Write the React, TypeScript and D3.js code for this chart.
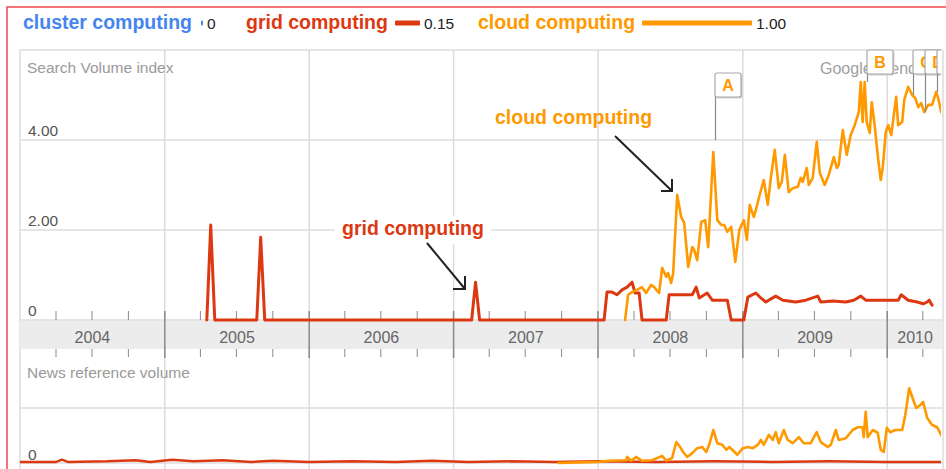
import React from 'react';
import * as d3 from 'd3';

// ---------- data ----------
const seriesNames = ['cluster computing', 'grid computing', 'cloud computing'];
const seriesColors = ['#4684ee', '#dc3912', '#ff9900'];
const legendValues = [0, 0.15, 1.0];
const legendLabels = ['0', '0.15', '1.00'];

const yearLabels = ['2004', '2005', '2006', '2007', '2008', '2009', '2010'];
const searchTicks = [0, 2, 4];
const searchTickLabels = ['0', '2.00', '4.00'];

// decimal-year time stamps and values (Search Volume index)
const gridSearchT = [
  2005.291, 2005.318, 2005.346, 2005.637, 2005.664, 2005.692, 2007.125, 2007.152, 2007.18,
  2008.042, 2008.062, 2008.097, 2008.131, 2008.166, 2008.201, 2008.235, 2008.256, 2008.284, 2008.304,
  2008.471, 2008.491, 2008.651, 2008.678, 2008.699, 2008.754, 2008.789, 2008.893, 2008.92,
  2009.007, 2009.035, 2009.09, 2009.125, 2009.159, 2009.228, 2009.277, 2009.367, 2009.436, 2009.519,
  2009.54, 2009.623, 2009.713, 2009.768, 2009.817, 2009.851, 2009.941, 2010.0, 2010.076, 2010.097,
  2010.145, 2010.208, 2010.249, 2010.277, 2010.291, 2010.311,
];
const gridSearchV = [
  0, 2.11, 0, 0, 1.84, 0, 0, 0.84, 0,
  0, 0.62, 0.62, 0.56, 0.67, 0.73, 0.84, 0.6, 0.6, 0,
  0, 0.56, 0.56, 0.73, 0.49, 0.6, 0.44, 0.44, 0,
  0, 0.51, 0.6, 0.49, 0.4, 0.53, 0.44, 0.4, 0.44, 0.53,
  0.4, 0.42, 0.4, 0.44, 0.53, 0.44, 0.44, 0.44, 0.44, 0.56,
  0.44, 0.4, 0.36, 0.4, 0.44, 0.33,
];

const cloudSearchT = [
  2008.187, 2008.208, 2008.235, 2008.27, 2008.304, 2008.332, 2008.367, 2008.388, 2008.422, 2008.443,
  2008.471, 2008.484, 2008.505, 2008.519, 2008.547, 2008.574, 2008.595, 2008.623, 2008.651, 2008.664,
  2008.685, 2008.713, 2008.74, 2008.761, 2008.796, 2008.824, 2008.851, 2008.872, 2008.893, 2008.92,
  2008.948, 2008.976, 2009.007, 2009.028, 2009.048, 2009.076, 2009.09, 2009.111, 2009.145, 2009.173,
  2009.194, 2009.221, 2009.249, 2009.27, 2009.291, 2009.318, 2009.346, 2009.381, 2009.401, 2009.415,
  2009.443, 2009.457, 2009.484, 2009.512, 2009.533, 2009.567, 2009.595, 2009.63, 2009.651, 2009.664,
  2009.692, 2009.72, 2009.747, 2009.775, 2009.803, 2009.817, 2009.83, 2009.844, 2009.858, 2009.879,
  2009.893, 2009.913, 2009.934, 2009.955, 2009.969, 2009.99, 2010.007, 2010.028, 2010.062, 2010.076,
  2010.104, 2010.118, 2010.145, 2010.173, 2010.194, 2010.215, 2010.235, 2010.256, 2010.284, 2010.311,
  2010.339, 2010.353, 2010.374,
];
const cloudSearchV = [
  0, 0.56, 0.62, 0.67, 0.73, 0.6, 0.78, 0.73, 0.6, 1.16,
  0.96, 1.04, 0.82, 1.04, 2.78, 2.29, 2.16, 1.18, 1.62, 1.56,
  1.33, 2.18, 2.22, 1.62, 3.73, 2.22, 2.11, 2.11, 1.96, 2.07,
  1.29, 2.0, 2.22, 1.78, 2.56, 2.29, 2.44, 2.71, 3.11, 2.56,
  3.16, 3.78, 2.93, 3.07, 3.67, 2.84, 2.93, 2.96, 3.16, 3.07,
  3.38, 3.0, 3.16, 3.96, 3.27, 3.0, 3.22, 3.62, 3.38, 3.44,
  4.22, 3.67, 4.11, 4.33, 4.62, 5.29, 4.4, 5.29, 4.4, 4.16,
  4.84, 4.33, 3.67, 3.11, 3.38, 4.18, 4.33, 4.11, 4.96, 4.33,
  4.4, 4.89, 5.18, 5.0, 4.93, 4.73, 4.82, 4.62, 4.78, 4.78,
  5.07, 4.93, 4.62,
];

// News reference volume (relative units)
const gridNewsT = [
  2004.0, 2004.25, 2004.29, 2004.33, 2004.6, 2004.8, 2004.9, 2005.05, 2005.2, 2005.4, 2005.6, 2005.75,
  2006.0, 2006.3, 2006.6, 2006.85, 2007.1, 2007.4, 2007.7, 2008.0, 2008.4, 2008.8, 2009.2, 2009.6,
  2010.0, 2010.38,
];
const gridNewsV = [
  0.02, 0.02, 0.06, 0.02, 0.03, 0.05, 0.02, 0.06, 0.03, 0.05, 0.02, 0.04,
  0.02, 0.03, 0.02, 0.04, 0.02, 0.03, 0.02, 0.03, 0.02, 0.03, 0.02, 0.03,
  0.02, 0.02,
];

const cloudNewsT = [
  2007.727, 2008.007, 2008.076, 2008.194, 2008.201, 2008.228, 2008.263, 2008.304, 2008.374, 2008.443,
  2008.471, 2008.512, 2008.54, 2008.567, 2008.588, 2008.616, 2008.651, 2008.685, 2008.72, 2008.747,
  2008.768, 2008.796, 2008.824, 2008.858, 2008.886, 2008.907, 2008.927, 2008.962, 2009.0, 2009.035,
  2009.069, 2009.104, 2009.125, 2009.145, 2009.18, 2009.208, 2009.228, 2009.249, 2009.284, 2009.311,
  2009.346, 2009.388, 2009.422, 2009.47, 2009.512, 2009.54, 2009.588, 2009.609, 2009.644, 2009.664,
  2009.713, 2009.761, 2009.796, 2009.83, 2009.837, 2009.851, 2009.865, 2009.9, 2009.934, 2009.955,
  2009.976, 2009.997, 2010.021, 2010.055, 2010.104, 2010.125, 2010.152, 2010.18, 2010.201, 2010.228,
  2010.249, 2010.277, 2010.311, 2010.346, 2010.381,
];
const cloudNewsV = [
  0.0, 0.02, 0.04, 0.05, 0.11, 0.04, 0.11, 0.04, 0.05, 0.13,
  0.04, 0.09, 0.38, 0.29, 0.2, 0.11, 0.18, 0.27, 0.29, 0.2,
  0.33, 0.6, 0.36, 0.33, 0.24, 0.29, 0.24, 0.15, 0.27, 0.29,
  0.27, 0.33, 0.42, 0.33, 0.51, 0.42, 0.56, 0.36, 0.6, 0.42,
  0.36, 0.47, 0.36, 0.36, 0.56, 0.38, 0.29, 0.33, 0.6, 0.42,
  0.45, 0.6, 0.65, 0.65, 0.47, 0.93, 0.47, 0.6, 0.55, 0.24,
  0.2, 0.64, 0.56, 0.6, 0.6, 0.87, 1.36, 1.15, 1.0, 1.05,
  1.11, 0.82, 0.69, 0.65, 0.47,
];

const annotationLetters = ['A', 'B', 'C', 'D', 'E'];
const annotationT = [2008.81, 2009.86, 2010.18, 2010.265, 2010.346];
const annotationV = [3.73, 5.29, 5.0, 4.62, 5.07];

// ---------- helpers ----------
const yearToDate = (t: number) => {
  const y = Math.floor(t);
  const a = new Date(y, 0, 1).getTime();
  const b = new Date(y + 1, 0, 1).getTime();
  return new Date(a + (t - y) * (b - a));
};

const FONT = '"Liberation Sans", Arial, sans-serif';

export default function App() {
  const left = 20, right = 943;
  const x = d3.scaleTime().domain([new Date(2004, 0, 1), new Date(2010, 4, 22)]).range([left, right]);
  const yS = d3.scaleLinear().domain([0, 6]).range([320, 50]);
  const yN = d3.scaleLinear().domain([0, 1]).range([463, 408]);
  const legendBar = d3.scaleLinear().domain([0, 0.15, 1]).range([2, 25, 110]);

  const mk = (T: number[], V: number[]) => T.map((t, i) => ({ d: yearToDate(t), v: V[i] }));
  const lineS = d3.line<{ d: Date; v: number }>().x((p) => x(p.d)).y((p) => yS(p.v));
  const lineN = d3.line<{ d: Date; v: number }>().x((p) => x(p.d)).y((p) => yN(p.v));

  const years = yearLabels.map((y) => new Date(+y, 0, 1));
  const yearBounds = [...years, x.domain()[1]];
  const quarters = d3.timeMonth.every(3)!.range(new Date(2004, 0, 1), x.domain()[1]).filter((d) => d.getMonth() !== 0);

  const bandTop = 321, bandBot = 349;
  const gridColor = '#dcdcdc';

  const legendX = [23, 246, 478];
  const legendTextW = [172, 143, 158];

  return (
    <div style={{ position: 'absolute', left: 0, top: 0 }}>
      <svg width={946} height={469} style={{ display: 'block', fontFamily: FONT }}>
        <defs>
          <clipPath id="plot">
            <rect x={left} y={40} width={right - left - 2} height={440} />
          </clipPath>
          <clipPath id="ann">
            <rect x={left} y={40} width={right - left - 2} height={100} />
          </clipPath>
        </defs>
        <rect x={0} y={0} width={946} height={469} fill="#fff" />
        {/* outer red frame */}
        <rect x={7} y={7} width={1000} height={500} fill="none" stroke="#f2464a" strokeWidth={1.5} />

        {/* legend */}
        {seriesNames.map((name, i) => {
          const tx = legendX[i];
          const bx = tx + legendTextW[i] + 6;
          const bw = legendBar(legendValues[i]);
          return (
            <g key={name}>
              <text x={tx} y={29} fontSize={19.5} fontWeight="bold" fill={seriesColors[i]}>{name}</text>
              <rect x={bx} y={20.5} width={bw} height={5} fill={seriesColors[i]} rx={1} />
              <text x={bx + bw + 4} y={29} fontSize={15.5} fill="#222">{legendLabels[i]}</text>
            </g>
          );
        })}

        {/* upper grid */}
        {[0, 2, 4, 6].map((v) => (
          <line key={'h' + v} x1={left} x2={right} y1={yS(v)} y2={yS(v)} stroke={gridColor} strokeWidth={1.5} />
        ))}
        {yearBounds.map((d, i) => (
          <line key={'v' + i} x1={x(d)} x2={x(d)} y1={50} y2={469} stroke={gridColor} strokeWidth={1.5} />
        ))}
        {/* lower grid */}
        <line x1={left} x2={right} y1={yN(1)} y2={yN(1)} stroke={gridColor} strokeWidth={1.5} />
        <line x1={left} x2={right} y1={yN(0)} y2={yN(0)} stroke={gridColor} strokeWidth={1.5} />

        {/* year band */}
        <rect x={left} y={bandTop} width={right - left} height={bandBot - bandTop} fill="#ececec" />
        {years.slice(1).map((d, i) => (
          <line key={'ys' + i} x1={x(d)} x2={x(d)} y1={311} y2={358} stroke="#8a8a8a" strokeWidth={1.5} />
        ))}
        {quarters.map((d, i) => (
          <g key={'q' + i}>
            <line x1={x(d)} x2={x(d)} y1={311} y2={320} stroke="#8a8a8a" strokeWidth={1} />
            <line x1={x(d)} x2={x(d)} y1={349} y2={357} stroke="#8a8a8a" strokeWidth={1} />
          </g>
        ))}
        {yearLabels.map((lab, i) => {
          const a = x(yearBounds[i]);
          const b = x(yearBounds[i + 1]);
          return (
            <text key={lab} x={(a + b) / 2} y={343} fontSize={16} fill="#666" textAnchor="middle">{lab}</text>
          );
        })}

        {/* axis texts */}
        <text x={27} y={73} fontSize={15.5} fill="#9a9a9a">Search Volume index</text>
        {searchTicks.map((v, i) => (
          <text key={'t' + v} x={28} y={yS(v) - 4} fontSize={15.5} fill="#555">{searchTickLabels[i]}</text>
        ))}
        <text x={27} y={378} fontSize={15.5} fill="#9a9a9a">News reference volume</text>
        <text x={28} y={460} fontSize={15.5} fill="#555">0</text>

        {/* Google Trends watermark */}
        <text x={820} y={74} fontSize={16} fill="#a0a0a0">Google Trends</text>

        {/* data lines */}
        <g clipPath="url(#plot)" fill="none" strokeLinejoin="round" strokeLinecap="round">
          <path d={lineS(mk(gridSearchT, gridSearchV)) || ''} stroke={seriesColors[1]} strokeWidth={3} />
          <path d={lineS(mk(cloudSearchT, cloudSearchV)) || ''} stroke={seriesColors[2]} strokeWidth={2.6} />
          <path d={lineN(mk(gridNewsT, gridNewsV)) || ''} stroke={seriesColors[1]} strokeWidth={2.5} />
          <path d={lineN(mk(cloudNewsT, cloudNewsV)) || ''} stroke={seriesColors[2]} strokeWidth={2.6} />
        </g>

        {/* annotation flags */}
        <g clipPath="url(#ann)">
          {annotationLetters.map((L, i) => {
            const ax = Math.round(x(yearToDate(annotationT[i])));
            const top = i === 0 ? 73 : 50;
            const bh = 24, bw = 26;
            return (
              <g key={L}>
                <line x1={ax + 0.5} x2={ax + 0.5} y1={top + bh} y2={yS(annotationV[i])} stroke="#888" strokeWidth={1.2} />
                <rect x={ax + 1.5} y={top + 1.5} width={bw} height={bh} fill="#cfcfcf" rx={2} />
                <rect x={ax} y={top} width={bw} height={bh} fill="#fff" stroke="#a8a8a8" strokeWidth={1.2} rx={2} />
                <text x={ax + bw / 2} y={top + 18} fontSize={16} fontWeight="bold" fill="#ff9900" textAnchor="middle">{L}</text>
              </g>
            );
          })}
        </g>

        {/* callouts */}
        <rect x={335} y={216} width={156} height={28} fill="#fff" />
        <text x={342} y={235} fontSize={19.5} fontWeight="bold" fill="#dc3912">grid computing</text>
        <g stroke="#222" strokeWidth={2} fill="none">
          <line x1={427} y1={243} x2={465} y2={289} />
          <polyline points="453,289 465,289 465,276" />
        </g>

        <text x={495} y={124} fontSize={19.5} fontWeight="bold" fill="#ff9900">cloud computing</text>
        <g stroke="#222" strokeWidth={2} fill="none">
          <line x1={615} y1={136} x2={672} y2={191} />
          <polyline points="661,191 672,191 672,179" />
        </g>
      </svg>
    </div>
  );
}
